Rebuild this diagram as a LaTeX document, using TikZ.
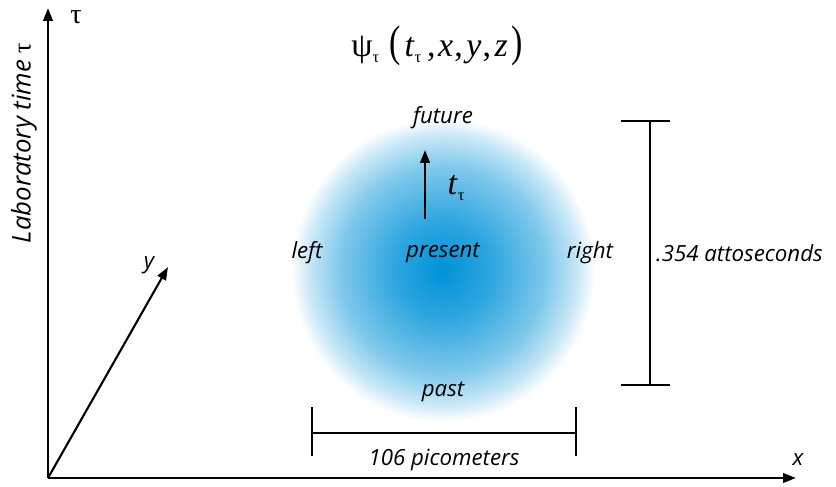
\documentclass[tikz,border=0pt]{standalone}
\usepackage{fontspec}
\setmainfont{Open Sans}
\newfontfamily\symf{Liberation Serif}
\usetikzlibrary{arrows.meta}

\definecolor{blobblue}{RGB}{0,146,216}
\pgfdeclareradialshading{blob}{\pgfpoint{0bp}{0bp}}{%
  color(0bp)=(blobblue);
  color(8bp)=(blobblue!82!white);
  color(17bp)=(blobblue!50!white);
  color(22bp)=(blobblue!22!white);
  color(25bp)=(white);
  color(50bp)=(white)}

% greek subscript in the serif face
\newcommand{\gsub}[1]{\raisebox{-5pt}{\fontsize{14}{14}\selectfont #1}}

\tikzset{
  axis/.style={line width=2.2pt, -{Triangle[length=11pt,width=8pt]}},
  bar/.style={line width=1pt},
  lbl/.style={font=\fontsize{19}{22}\selectfont\itshape, inner sep=0pt},
  sym/.style={font=\fontsize{29}{33}\selectfont\symf, inner sep=0pt},
}

\begin{document}
\begin{tikzpicture}[x=0.03cm, y=-0.03cm]
  \useasboundingbox (0,0) rectangle (836,487);

  % the cloud
  \shade[shading=blob] (443,270) circle (152);

  % axes
  \coordinate (o) at (48,478);
  \coordinate (tauend) at (48,8);
  \coordinate (xend) at (796,478);
  \coordinate (yend) at (168,267);
  \draw[axis] (o) -- (tauend);
  \draw[axis] (o) -- (xend);
  \draw[axis, line width=1.8pt] (o) -- (yend);
  \node[sym, font=\fontsize{24}{28}\selectfont\symf] (tau) at (76,17) {τ};
  \node[lbl] (xlab) at (798,460) {x};
  \node[lbl] (ylab) at (149,265) {y};
  \node[lbl, rotate=90, font=\fontsize{22}{26}\selectfont\itshape] (labtime) at (24,143) {Laboratory time {\symf\upshape τ}};

  % wave function
  \node[sym] (psi) at (437,46) {ψ\gsub{τ}\hspace{9pt}\scalebox{1}[1.3]{(}\hspace{3pt}\textit{t}\gsub{τ}\hspace{5pt},\hspace{2pt}\textit{x}\hspace{1pt},\hspace{3pt}\textit{y}\hspace{1pt},\hspace{3pt}\textit{z}\hspace{3pt}\scalebox{1}[1.3]{)}};

  % directions
  \node[lbl] (future) at (443,118) {future};
  \node[lbl] (present) at (443,253) {present};
  \node[lbl] (left) at (307,253) {left};
  \node[lbl] (right) at (590,253) {right};
  \node[lbl] (past) at (443,392) {past};

  % proper time arrow
  \coordinate (tt0) at (425,219);
  \coordinate (tt1) at (425,150);
  \draw[line width=2.2pt, -{Triangle[length=11pt,width=8pt]}] (tt0) -- (tt1);
  \node[sym] (ttau) at (456,188) {\textit{t}\gsub{τ}};

  % time span
  \coordinate (vt) at (650,121);
  \coordinate (vb) at (650,385);
  \draw[bar] (vt) -- (vb);
  \draw[bar] ([xshift=-25]vt) -- ([xshift=17]vt);
  \draw[bar] ([xshift=-25]vb) -- ([xshift=17]vb);
  \node[lbl, anchor=west] (span) at (656,253) {.354 attoseconds};

  % size
  \coordinate (hl) at (312,433);
  \coordinate (hr) at (576,433);
  \draw[bar] (hl) -- (hr);
  \draw[bar] ([yshift=-20]hl) -- ([yshift=22]hl);
  \draw[bar] ([yshift=-20]hr) -- ([yshift=22]hr);
  \node[lbl] (size) at (444,460) {106 picometers};
\end{tikzpicture}
\end{document}
